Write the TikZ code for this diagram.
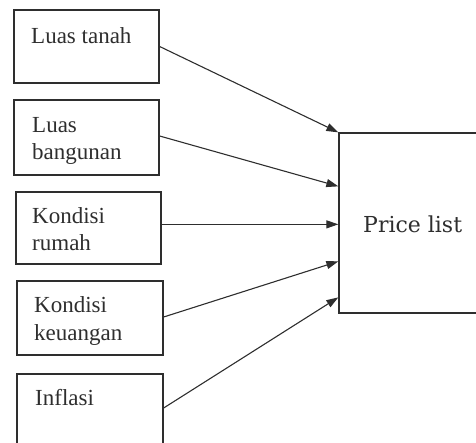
\documentclass[tikz,border=0pt]{standalone}
\usepackage{fontspec}
\setmainfont{Liberation Serif}
\newfontfamily\pricefont{DejaVu Serif}
\usetikzlibrary{arrows.meta,calc}
\definecolor{ink}{HTML}{2E2E2E}
\tikzset{
  inbox/.style={draw=ink, line width=1.3pt, rectangle, inner sep=0pt},
  lbl/.style={anchor=base west, inner sep=0pt, text=ink, font=\fontsize{23}{27}\selectfont},
  plbl/.style={anchor=base west, inner sep=0pt, text=ink, font=\pricefont\fontsize{22}{27}\selectfont},
  conn/.style={draw=ink, line width=1.1pt, -{Triangle[length=12pt,width=8pt]}}
}
\begin{document}
\begin{tikzpicture}[x=1pt,y=-1pt]
\useasboundingbox (0,0) rectangle (476,442);
\clip (0,0) rectangle (476,442);
% input boxes
\node[inbox, minimum width=145pt, minimum height=73pt] (b1) at (86.5,46.5) {};
\node[inbox, minimum width=145pt, minimum height=75pt] (b2) at (86.5,137.5) {};
\node[inbox, minimum width=145pt, minimum height=72pt] (b3) at (88.5,228) {};
\node[inbox, minimum width=146pt, minimum height=74pt] (b4) at (90,318) {};
\node[inbox, minimum width=146pt, minimum height=76pt] (b5) at (90,412) {};
% output box
\node[inbox, minimum width=161pt, minimum height=180pt] (p) at (419.5,223) {};
% labels
\node[lbl] (l1) at (31,43) {Luas tanah};
\node[lbl] (l2a) at (32,132) {Luas};
\node[lbl] (l2b) at (32,159) {bangunan};
\node[lbl] (l3a) at (32,223) {Kondisi};
\node[lbl] (l3b) at (32,250) {rumah};
\node[lbl] (l4a) at (34,312) {Kondisi};
\node[lbl] (l4b) at (34,340) {keuangan};
\node[lbl] (l5) at (35,405) {Inflasi};
\node[plbl] (pl) at (363,232) {Price list};
% target points on output box
\coordinate (t1) at (p.north west);
\coordinate (t2) at ($(p.north west)+(0,54)$);
\coordinate (t3) at ($(p.north west)+(0,92)$);
\coordinate (t4) at ($(p.north west)+(0,129)$);
\coordinate (t5) at ($(p.north west)+(0,165)$);
% start points on input boxes
\coordinate (s1) at (b1.east);
\coordinate (s2) at ($(b2.east)+(0,-1.5)$);
\coordinate (s3) at (b3.east |- t3);
\coordinate (s4) at ($(b4.east)+(0,-1)$);
\coordinate (s5) at ($(b5.east)+(0,-4)$);
% connectors
\draw[conn] (s1) -- (t1);
\draw[conn] (s2) -- (t2);
\draw[conn] (s3) -- (t3);
\draw[conn] (s4) -- (t4);
\draw[conn] (s5) -- (t5);
\end{tikzpicture}
\end{document}
